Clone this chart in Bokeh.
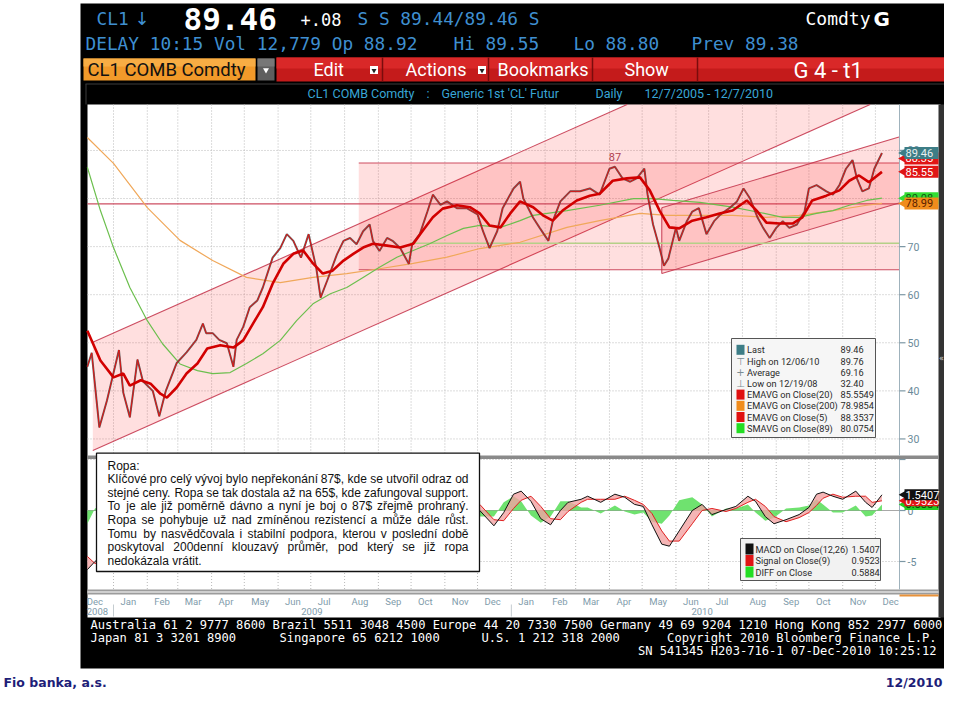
import unicodedata
import numpy as np
import pandas as pd
from bokeh.plotting import figure
from bokeh.models import Range1d
from bokeh.core.properties import value
from bokeh.embed import file_html
from bokeh.resources import INLINE

# ======================= DATA =======================
price_dates = ["2008-12-08","2008-12-12","2008-12-19","2008-12-26","2009-01-06","2009-01-10","2009-01-16","2009-01-23","2009-01-28","2009-02-06",
               "2009-02-12","2009-02-18","2009-02-28","2009-03-09","2009-03-18","2009-03-24","2009-03-27","2009-04-02","2009-04-08","2009-04-15",
               "2009-04-21","2009-04-24","2009-04-30","2009-05-06","2009-05-13","2009-05-18","2009-05-27","2009-06-03","2009-06-09","2009-06-15",
               "2009-06-22","2009-06-29","2009-07-06","2009-07-10","2009-07-16","2009-07-25","2009-07-31","2009-08-06","2009-08-12","2009-08-18",
               "2009-08-24","2009-08-27","2009-09-02","2009-09-09","2009-09-14","2009-09-21","2009-09-29","2009-10-02","2009-10-09","2009-10-16",
               "2009-10-21","2009-10-28","2009-11-03","2009-11-12","2009-11-21","2009-12-01","2009-12-06","2009-12-12","2009-12-19","2009-12-24",
               "2010-01-03","2010-01-09","2010-01-12","2010-01-21","2010-01-27","2010-02-04","2010-02-08","2010-02-15","2010-02-24","2010-03-05",
               "2010-03-14","2010-03-23","2010-04-01","2010-04-06","2010-04-13","2010-04-20","2010-04-26","2010-05-03","2010-05-06","2010-05-11",
               "2010-05-17","2010-05-21","2010-05-25","2010-06-01","2010-06-04","2010-06-11","2010-06-16","2010-06-22","2010-06-29","2010-07-06",
               "2010-07-12","2010-07-20","2010-07-27","2010-08-02","2010-08-08","2010-08-15","2010-08-20","2010-08-26","2010-09-01","2010-09-07",
               "2010-09-13","2010-09-20","2010-09-27","2010-10-01","2010-10-08","2010-10-17","2010-10-23","2010-10-29","2010-11-04","2010-11-10",
               "2010-11-14","2010-11-19","2010-11-25","2010-11-30","2010-12-07"]
price_close = [45.0,47.9,32.4,38.0,48.5,39.6,34.5,46.5,42.0,40.0,
               34.7,40.0,45.8,48.0,50.6,54.0,52.0,52.0,50.6,49.9,
               45.0,50.6,53.3,57.4,58.8,61.5,67.7,69.7,72.6,71.2,
               67.7,72.6,65.6,59.4,62.9,68.4,71.2,71.8,70.5,73.2,
               74.6,71.2,69.1,71.8,71.2,69.7,66.4,70.5,72.6,77.3,
               80.8,78.7,79.4,78.0,78.0,76.7,73.2,69.7,73.2,78.0,
               82.1,83.5,80.0,76.0,73.9,71.2,75.3,79.4,81.5,81.5,
               82.1,80.8,86.2,86.6,84.2,83.5,84.2,86.2,80.8,74.6,
               69.7,66.0,67.5,73.9,71.2,75.3,77.3,78.0,72.6,75.3,
               76.7,78.0,79.4,82.1,80.0,76.0,73.9,71.8,73.9,75.3,
               73.9,74.6,77.3,82.1,82.8,81.5,80.8,82.8,86.2,88.0,
               84.2,81.5,82.1,86.2,89.46]

ema20_dates = ["2008-12-08","2008-12-20","2009-01-01","2009-01-10","2009-01-16","2009-01-26","2009-02-04","2009-02-13","2009-02-19","2009-02-28",
               "2009-03-09","2009-03-19","2009-03-28","2009-04-09","2009-04-21","2009-04-30","2009-05-09","2009-05-18","2009-05-27","2009-06-06",
               "2009-06-15","2009-06-24","2009-07-03","2009-07-12","2009-07-21","2009-07-31","2009-08-09","2009-08-18","2009-08-27","2009-09-09",
               "2009-09-21","2009-10-03","2009-10-12","2009-10-21","2009-10-30","2009-11-12","2009-11-24","2009-12-03","2009-12-12","2009-12-22",
               "2009-12-31","2010-01-09","2010-01-21","2010-01-30","2010-02-08","2010-02-17","2010-03-02","2010-03-14","2010-03-23","2010-04-04",
               "2010-04-17","2010-04-29","2010-05-08","2010-05-17","2010-05-26","2010-06-04","2010-06-16","2010-06-29","2010-07-11","2010-07-23",
               "2010-08-05","2010-08-14","2010-08-23","2010-09-04","2010-09-16","2010-09-25","2010-10-04","2010-10-17","2010-10-29","2010-11-07",
               "2010-11-16","2010-11-25","2010-12-07"]
ema20_vals = [52.5,46.3,42.8,43.6,41.1,42.2,41.5,39.4,38.6,40.7,
              43.6,45.7,48.8,49.5,49.0,50.5,54.0,57.4,62.3,66.5,
              68.5,69.2,66.5,64.4,65.0,67.1,68.5,69.8,70.6,70.2,
              69.8,70.6,73.4,76.1,77.9,78.6,78.2,76.9,74.4,74.0,
              76.9,79.4,78.2,76.5,75.4,77.5,79.6,80.6,81.0,83.7,
              84.2,84.4,81.7,77.5,74.0,73.8,75.4,76.1,76.9,77.5,
              79.6,77.5,75.0,74.8,74.8,76.1,79.6,80.6,81.7,83.7,
              84.8,83.4,85.55]

ema200_dates = ["2008-12-08","2009-01-01","2009-02-01","2009-03-03","2009-04-02","2009-05-03","2009-06-03","2009-07-03","2009-08-03","2009-09-02",
                "2009-10-03","2009-11-03","2009-12-03","2010-01-09","2010-02-21","2010-03-23","2010-04-29","2010-05-24","2010-06-23","2010-07-23",
                "2010-08-23","2010-09-22","2010-10-23","2010-11-23","2010-12-07"]
ema200_vals = [92.7,87.3,78.1,71.3,67.1,63.6,62.5,63.6,64.4,65.4,
               66.5,67.8,69.6,70.9,74.0,75.4,76.9,76.5,76.5,76.5,
               76.1,76.5,77.5,78.6,78.99]

sma89_dates = ["2008-12-08","2008-12-20","2009-01-01","2009-01-16","2009-02-01","2009-02-15","2009-03-03","2009-03-19","2009-04-02","2009-04-18",
               "2009-05-03","2009-05-18","2009-06-03","2009-06-18","2009-07-03","2009-07-19","2009-08-03","2009-08-18","2009-09-02","2009-09-18",
               "2009-10-03","2009-10-18","2009-11-03","2009-11-18","2009-12-03","2009-12-22","2010-01-09","2010-01-21","2010-02-21","2010-03-23",
               "2010-04-23","2010-05-11","2010-05-29","2010-06-23","2010-07-23","2010-08-17","2010-09-07","2010-09-22","2010-10-08","2010-10-23",
               "2010-11-07","2010-11-23","2010-12-07"]
sma89_vals = [86.5,77.5,69.8,61.5,54.6,49.8,45.6,44.2,43.6,43.8,
              45.7,47.7,50.5,54.6,58.1,60.2,61.5,63.6,65.7,67.8,
              69.2,70.6,72.3,73.8,74.4,74.0,75.4,76.5,77.5,78.6,
              80.0,80.0,79.6,79.2,78.2,77.1,76.1,76.1,76.9,77.5,
              78.6,79.6,80.08]

macd_dates = ["2008-12-08","2008-12-15","2008-12-24","2009-01-01","2009-01-12","2009-01-26","2009-02-08","2009-02-17","2009-03-03","2009-03-17",
              "2009-03-31","2009-04-13","2009-04-27","2009-05-11","2009-05-25","2009-06-07","2009-06-21","2009-07-05","2009-07-14","2009-07-28",
              "2009-08-11","2009-08-24","2009-09-07","2009-09-21","2009-09-30","2009-10-14","2009-10-28","2009-11-10","2009-11-24","2009-12-03",
              "2009-12-16","2009-12-25","2010-01-03","2010-01-10","2010-01-19","2010-01-28","2010-02-06","2010-02-15","2010-02-22","2010-03-06",
              "2010-03-12","2010-03-24","2010-04-06","2010-04-15","2010-04-24","2010-05-02","2010-05-10","2010-05-19","2010-05-26","2010-06-04",
              "2010-06-16","2010-06-25","2010-07-04","2010-07-17","2010-07-26","2010-08-06","2010-08-13","2010-08-22","2010-08-30","2010-09-10",
              "2010-09-22","2010-10-01","2010-10-08","2010-10-14","2010-10-23","2010-11-01","2010-11-13","2010-11-22","2010-11-28","2010-12-07"]
macd_vals = [-5.8,-5.0,-4.2,-3.0,-2.0,-1.6,-1.9,-2.2,-1.0,0.5,
             1.5,1.2,0.8,1.8,3.0,3.8,3.2,1.0,-0.8,0.3,
             1.5,1.6,0.5,-0.2,-0.4,1.2,2.4,1.8,0.8,0.0,
             -1.5,-0.2,1.6,1.9,0.9,-0.8,-1.4,0.0,0.8,1.1,
             1.4,0.8,1.6,1.3,0.6,0.4,-1.4,-3.3,-3.5,-2.0,
             0.0,0.6,-0.4,0.1,0.4,1.4,0.9,-0.6,-1.3,-0.9,
             -0.4,0.3,1.6,1.8,1.4,1.1,1.9,0.8,0.3,1.54]
signal_vals = [-4.5,-5.2,-4.8,-4.0,-2.8,-2.0,-1.8,-2.0,-1.8,-0.5,
               0.6,1.3,1.0,1.2,2.2,3.2,3.5,2.4,0.8,-0.2,
               0.8,1.4,1.2,0.4,-0.1,0.4,1.6,2.0,1.4,0.6,
               -0.9,-1.0,0.2,1.0,1.4,0.4,-0.8,-0.9,-0.1,0.8,
               1.1,1.1,1.1,1.4,1.0,0.6,-0.3,-2.0,-3.0,-3.0,
               -1.3,0.0,0.2,-0.1,0.2,0.8,1.1,0.4,-0.6,-1.1,
               -0.7,-0.2,0.5,1.2,1.6,1.3,1.4,1.4,0.8,0.95]

# drawn analysis objects (price levels / channels)
level_87 = 87.4
support_65 = 65.2
level_79 = 78.9
level_71 = 70.7
level_71_start = "2009-09-30"
range_box_start = "2009-08-14"
peak_87_date = "2010-04-06"
big_channel_anchor = "2008-12-13"
big_channel_lower = 27.6
big_channel_upper = 50.1
big_channel_slope = 0.1009          # USD per day
small_channel_anchor = "2010-05-19"
small_channel_lower = 64.4
small_channel_upper = 78.1
small_channel_slope = 0.0675        # USD per day

# axes
price_ticks = [30, 40, 50, 60, 70, 80, 90]
macd_ticks = [-5, 0, 5]
macd_tick_labels = ["-5", "0", ""]
month_labels = ["Dec","Jan","Feb","Mar","Apr","May","Jun","Jul","Aug","Sep","Oct","Nov","Dec",
                "Jan","Feb","Mar","Apr","May","Jun","Jul","Aug","Sep","Oct","Nov","Dec"]
year_labels = ["2008", "2009", "2010"]
year_label_dates = ["2008-12-01", "2009-07-02", "2010-06-25"]

# value tags on the right axis (drawn bottom-most first)
price_tag_vals = [88.35, 89.46, 85.55, 80.08, 78.99]
price_tag_text = ["88.35", "89.46", "85.55", "80.08", "78.99"]
price_tag_bg = ["#e01515", "#3d7d86", "#e01515", "#33dd33", "#f08c1c"]
price_tag_fg = ["#ffffff", "#e8f0f0", "#ffffff", "#115511", "#5a2000"]
macd_tag_vals = [0.5884, 0.9523, 1.5407]
macd_tag_text = ["0.5884", "0.9523", "1.5407"]
macd_tag_bg = ["#22cc22", "#e01515", "#111111"]
macd_tag_fg = ["#0a3a0a", "#ffffff", "#ffffff"]

# legends
legend_labels = ["Last", "High on 12/06/10", "Average", "Low on 12/19/08", "EMAVG on Close(20)",
                 "EMAVG on Close(200)", "EMAVG on Close(5)", "SMAVG on Close(89)"]
legend_values = ["89.46", "89.76", "69.16", "32.40", "85.5549", "78.9854", "88.3537", "80.0754"]
legend_icons = ["sq", "T", "+", "L", "sq", "sq", "sq", "sq"]
legend_colors = ["#3d7d86", "#7a8c94", "#7a8c94", "#7a8c94", "#e01010", "#f08c1c", "#e01010", "#22dd22"]
macd_legend_labels = ["MACD on Close(12,26)", "Signal on Close(9)", "DIFF on Close"]
macd_legend_values = ["1.5407", "0.9523", "0.5884"]
macd_legend_colors = ["#111111", "#e01515", "#22dd22"]

note_lines = ["Ropa:",
              "Klíčové pro celý vývoj bylo nepřekonání 87$, kde se utvořil odraz od",
              "stejné ceny. Ropa se tak dostala až na 65$, kde zafungoval support.",
              "To je ale již poměrně dávno a nyní je boj o 87$ zřejmě prohraný.",
              "Ropa se pohybuje už nad zmíněnou rezistencí a může dále růst.",
              "Tomu by nasvědčovala i stabilní podpora, kterou v poslední době",
              "poskytoval 200denní klouzavý průměr, pod který se již ropa",
              "nedokázala vrátit."]

# ======================= LAYOUT / SCALES =======================
FIG_W, FIG_H = 944, 690
ORIGIN = pd.Timestamp("2009-01-01")
X_ORIGIN_PX, PX_PER_DAY = 113.0, 1.09
PRICE_60_PX, PX_PER_USD = 294.2, 4.808
MACD_0_PX, PX_PER_MACD = 510.0, 10.2
PANE_L, PANE_R = 87.0, 898.5
PRICE_TOP, PRICE_BOT = 104.0, 455.0
MACD_TOP, MACD_BOT = 458.5, 589.0

def days(d):
    r = (pd.to_datetime(d) - ORIGIN) / pd.Timedelta(days=1)
    if isinstance(d, str):
        return float(r)
    return np.asarray(r, dtype=float).tolist()

def px_to_day(px):
    return (px - X_ORIGIN_PX) / PX_PER_DAY

def py_to_price(py):
    return 60 + (PRICE_60_PX - py) / PX_PER_USD

def py_to_macd(py):
    return (MACD_0_PX - py) / PX_PER_MACD

p = figure(width=FIG_W, height=FIG_H, x_range=Range1d(0, FIG_W), y_range=Range1d(FIG_H, 0),
           x_axis_type=None, y_axis_type=None, output_backend="svg",
           toolbar_location=None, min_border=0, outline_line_color=None)
p.background_fill_color = "white"
p.border_fill_color = "white"
p.extra_x_ranges = {"t": Range1d(px_to_day(0), px_to_day(FIG_W))}
p.extra_y_ranges = {"price": Range1d(py_to_price(FIG_H), py_to_price(0)),
                    "macd": Range1d(py_to_macd(FIG_H), py_to_macd(0))}

MONO = "DejaVu Sans Mono"
BLUE = "#3f8fd0"

def box(l, r, t, b, color, line=None, lw=1.0, alpha=1.0):
    p.quad(left=[l], right=[r], top=[t], bottom=[b], fill_color=color, fill_alpha=alpha,
           line_color=line, line_width=lw)

def txt(x, y, s, size, color, font="Roboto", align="left", baseline="middle", style="normal"):
    p.text(x=[x], y=[y], text=[s], text_font=value(font), text_font_size=value(f"{size}px"),
           text_color=color, text_align=align, text_baseline=baseline, text_font_style=style)

# ---------- Bloomberg frame & header ----------
box(80, FIG_W, 3, 668, "black")
txt(96, 18, "CL1", 17.8, BLUE, MONO)
txt(134, 18, "↓", 18, BLUE, "DejaVu Sans")
txt(183, 18, "89.46", 31, "white", MONO, style="bold")
txt(300, 19, "+.08", 17, "white", MONO)
txt(357, 18, "S S 89.44/89.46 S", 17.8, BLUE, MONO)
txt(805, 18, "Comdty", 18, "white", MONO)
txt(873, 18, "G", 20, "white", "DejaVu Sans", style="bold")

txt(85, 43, "DELAY 10:15 Vol 12,779 Op 88.92", 17.8, BLUE, MONO)
txt(453, 43, "Hi 89.55", 17.8, BLUE, MONO)
txt(573, 43, "Lo 88.80", 17.8, BLUE, MONO)
txt(691, 43, "Prev 89.38", 17.8, BLUE, MONO)

# menu bar
box(83, 255, 58, 80, "#f29a2a")
box(83, 255, 58, 66, "#f8ad44")
txt(87, 69.5, "CL1 COMB Comdty", 18.5, "#111111")
box(257, 274, 58, 80, "#5e5e5e")
box(257, 274, 58, 66, "#777777")
p.scatter(x=[265.5], y=[69.5], marker="triangle", size=6, angle=np.pi, fill_color="white", line_color=None)
box(276, FIG_W, 57, 81, "#c41b1b")
box(276, FIG_W, 57, 68, "#d92828")
p.segment(x0=[382, 488, 592, 697], x1=[382, 488, 592, 697], y0=[57]*4, y1=[81]*4,
          line_color="#7a0c0c", line_width=1.5)
txt(313, 69, "Edit", 18, "white")
txt(405, 69, "Actions", 18, "white")
txt(497, 69, "Bookmarks", 18, "white")
txt(624, 69, "Show", 18, "white")
txt(793, 70, "G 4 - t1", 22, "white")
for bx in (369.5, 477.5):
    box(bx, bx + 8, 65.5, 73.5, "white")
    p.scatter(x=[bx + 4], y=[70], marker="triangle", size=5, angle=np.pi, fill_color="#222222", line_color=None)

# subtitle row
p.segment(x0=[85], x1=[FIG_W], y0=[83.5], y1=[83.5], line_color="#3c3c3c", line_width=1)
p.segment(x0=[85.5], x1=[85.5], y0=[83.5], y1=[104], line_color="#3c3c3c", line_width=1)
SUB = "#38a6d6"
txt(307, 93, "CL1 COMB Comdty", 12.5, SUB)
txt(426, 93, ":", 12.5, SUB)
txt(441, 93, "Generic 1st 'CL' Futur", 12.5, SUB)
txt(595, 93, "Daily", 12.5, SUB)
txt(644, 93, "12/7/2005 - 12/7/2010", 12.5, SUB)

# chart area and right scroll bar
box(87, 940, 104, 617, "white")
box(938, FIG_W, 104, 617, "#333333")
txt(941, 358, "«", 8, "#d8d8d8", "DejaVu Sans", align="center")

# ---------- grids ----------
month_starts = pd.date_range("2008-12-01", "2010-12-01", freq="MS")
md = [d for d in days([str(m.date()) for m in month_starts]) if d >= px_to_day(PANE_L)]
GRID = dict(line_color="#b9b9b9", line_dash="1 2", line_width=1)
p.segment(x0=md, x1=md, y0=[PRICE_TOP] * len(md), y1=[PRICE_BOT] * len(md), x_range_name="t", **GRID)
p.segment(x0=md, x1=md, y0=[MACD_TOP] * len(md), y1=[MACD_BOT] * len(md), x_range_name="t", **GRID)
p.segment(x0=[PANE_L] * len(price_ticks), x1=[PANE_R] * len(price_ticks), y0=price_ticks, y1=price_ticks,
          y_range_name="price", **GRID)
p.segment(x0=[PANE_L, PANE_L], x1=[PANE_R, PANE_R], y0=[-5, 5], y1=[-5, 5], y_range_name="macd", **GRID)
p.segment(x0=[PANE_L], x1=[PANE_R], y0=[0], y1=[0], y_range_name="macd", line_color="#a8a8a8", line_width=1)

# ---------- price pane drawings ----------
PR = dict(x_range_name="t", y_range_name="price")
top_price = py_to_price(PRICE_TOP)
d_right = px_to_day(PANE_R)
d_left = px_to_day(PANE_L)
CH_FILL = dict(fill_color="#ff1a1a", fill_alpha=0.14, line_color=None)
CH_LINE = dict(line_color="#c63a50", line_width=1.1, line_alpha=0.9)

# big rising channel
d0 = days(big_channel_anchor)
d_up_end = d0 + (top_price - big_channel_upper) / big_channel_slope
d_lo_end = d0 + (top_price - big_channel_lower) / big_channel_slope
p.patch(x=[d0, d0, d_up_end, d_lo_end], y=[big_channel_lower, big_channel_upper, top_price, top_price], **PR, **CH_FILL)
p.line(x=[d0, d_up_end], y=[big_channel_upper, top_price], **PR, **CH_LINE)
p.line(x=[d0, d_lo_end], y=[big_channel_lower, top_price], **PR, **CH_LINE)

# range 65 - 87
db = days(range_box_start)
p.quad(left=[db], right=[d_right], bottom=[support_65], top=[level_87], **PR, **CH_FILL)
p.line(x=[db, d_right], y=[level_87, level_87], **PR, **CH_LINE)
p.line(x=[db, d_right], y=[support_65, support_65], **PR, **CH_LINE)
p.line(x=[d_left, d_right], y=[level_79, level_79], **PR, **CH_LINE)

# small rising channel
s0 = days(small_channel_anchor)
rise = small_channel_slope * (d_right - s0)
p.patch(x=[s0, s0, d_right, d_right],
        y=[small_channel_lower, small_channel_upper, small_channel_upper + rise, small_channel_lower + rise], **PR, **CH_FILL)
p.line(x=[s0, d_right], y=[small_channel_upper, small_channel_upper + rise], **PR, **CH_LINE)
p.line(x=[s0, d_right], y=[small_channel_lower, small_channel_lower + rise], **PR, **CH_LINE)
p.line(x=[s0, s0], y=[small_channel_lower, small_channel_upper], **PR, **CH_LINE)

p.line(x=[days(level_71_start), d_right], y=[level_71, level_71], line_color="#b4d088", line_width=1.6, **PR)
p.text(x=[days(peak_87_date)], y=[level_87], text=["87"], text_font=value("Roboto"), text_font_size=value("11px"),
       text_color="#b04050", text_align="center", text_baseline="bottom", y_offset=-2, **PR)

# moving averages and price
p.line(x=days(ema200_dates), y=ema200_vals, line_color="#f0a85a", line_width=1.2, **PR)
p.line(x=days(sma89_dates), y=sma89_vals, line_color="#6cbf4e", line_width=1.2, **PR)
px_days = days(price_dates)
p.line(x=px_days, y=price_close, line_color="#4a4a4a", line_width=2.0, line_alpha=0.85, **PR)
p.line(x=px_days, y=price_close, line_color="#e31212", line_width=1.0, **PR)
p.line(x=days(ema20_dates), y=ema20_vals, line_color="#d20000", line_width=2.6, **PR)

# ---------- MACD pane ----------
MC = dict(x_range_name="t", y_range_name="macd")
m_days = days(macd_dates)
diff_vals = [m - s for m, s in zip(macd_vals, signal_vals)]
p.varea(x=m_days, y1=[0] * len(m_days), y2=diff_vals, fill_color="#3fd83f", fill_alpha=0.75, **MC)
p.varea(x=m_days, y1=macd_vals, y2=signal_vals, fill_color="#f2a2a2", fill_alpha=0.8, **MC)
p.line(x=m_days, y=signal_vals, line_color="#e02020", line_width=1.0, **MC)
p.line(x=m_days, y=macd_vals, line_color="#111111", line_width=1.0, **MC)

# pane separators
box(87, 938, PRICE_BOT, MACD_TOP, "#8a8a8a")
box(87, 938, MACD_BOT, 594, "#9c9c9c")
box(87, 938, 590.5, 592.5, "#cfcfcf")
box(899, 938, 594, 596, "#e8923a")

# ---------- right axes ----------
AX = "#9fb2bc"
p.segment(x0=[899, 899], x1=[899, 899], y0=[PRICE_TOP, MACD_TOP], y1=[PRICE_BOT, MACD_BOT], line_color=AX, line_width=1)
p.segment(x0=[899] * len(price_ticks), x1=[905] * len(price_ticks), y0=price_ticks, y1=price_ticks,
          y_range_name="price", line_color="#7d98a5", line_width=1.2)
p.text(x=[907] * len(price_ticks), y=price_ticks, text=[str(t) for t in price_ticks], y_range_name="price",
       text_font=value("Roboto"), text_font_size=value("10.5px"), text_color="#6a8a99", text_baseline="middle")
p.segment(x0=[899] * len(macd_ticks), x1=[905] * len(macd_ticks), y0=macd_ticks, y1=macd_ticks,
          y_range_name="macd", line_color="#7d98a5", line_width=1.2)
p.text(x=[907] * len(macd_ticks), y=macd_ticks, text=macd_tick_labels, y_range_name="macd",
       text_font=value("Roboto"), text_font_size=value("10.5px"), text_color="#6a8a99", text_baseline="middle")

def tags(vals, labels, bgs, fgs, rng, h):
    for v, s, bg, fg in zip(vals, labels, bgs, fgs):
        p.rect(x=[921], y=[v], width=[34], height=[h], height_units="screen", y_range_name=rng,
               fill_color=bg, line_color=None)
        p.scatter(x=[904], y=[v], marker="triangle", size=h - 1, angle=np.pi / 2, y_range_name=rng,
                  fill_color=bg, line_color=None)
        p.text(x=[905], y=[v], text=[s], y_range_name=rng, text_font=value("Roboto"),
               text_font_size=value("11px"), text_color=fg, text_baseline="middle")

tags(price_tag_vals, price_tag_text, price_tag_bg, price_tag_fg, "price", 12)
tags(macd_tag_vals, macd_tag_text, macd_tag_bg, macd_tag_fg, "macd", 11)

# ---------- x axis ----------
label_days = days([str(m.date()) for m in month_starts])
p.text(x=label_days, y=[601] * len(label_days), text=month_labels, x_range_name="t", x_offset=7,
       text_font=value("Roboto"), text_font_size=value("9.5px"), text_color="#7f9cab", text_baseline="middle")
p.text(x=days(year_label_dates), y=[611] * 3, text=year_labels, x_range_name="t", x_offset=[7, 0, 0],
       text_align=["left", "center", "center"],
       text_font=value("Roboto"), text_font_size=value("9.5px"), text_color="#7f9cab", text_baseline="middle")
yb = days(["2009-01-01", "2010-01-01"])
p.segment(x0=yb, x1=yb, y0=[604, 604], y1=[616, 616], x_range_name="t", line_color="#c4ccd0", line_width=1)

# ---------- legends ----------
LG_FS = 9.2
box(731, 875, 338, 437, "#f6f6f6", line="#555555", lw=1)
for i, (lab, val, ic, col) in enumerate(zip(legend_labels, legend_values, legend_icons, legend_colors)):
    y = 349.3 + i * 11.2
    if ic == "sq":
        box(736, 744, y - 5, y + 5, col)
    else:
        glyph = {"T": "⊤", "+": "+", "L": "⊥"}[ic]
        txt(740, y, glyph, 10, col, "DejaVu Sans", align="center")
    txt(746.5, y, lab, LG_FS, "#2a2a2a")
    txt(840, y, val, LG_FS, "#2a2a2a")

box(740, 880, 538, 580, "#f2f2f2", line="#555555", lw=1)
for i, (lab, val, col) in enumerate(zip(macd_legend_labels, macd_legend_values, macd_legend_colors)):
    y = 548.5 + i * 11.5
    box(745, 753, y - 5.5, y + 5.5, col)
    txt(755, y, lab, LG_FS, "#2a2a2a")
    txt(851, y, val, LG_FS, "#2a2a2a")

# ---------- comment box ----------
AW = {' ': 278, '$': 556, '(': 333, ')': 333, ',': 278, '-': 333, '.': 278, ':': 278, '/': 278,
      'a': 556, 'b': 556, 'c': 500, 'd': 556, 'e': 556, 'f': 278, 'g': 556, 'h': 556, 'i': 222, 'j': 222,
      'k': 500, 'l': 222, 'm': 833, 'n': 556, 'o': 556, 'p': 556, 'q': 556, 'r': 333, 's': 500, 't': 278,
      'u': 556, 'v': 500, 'w': 722, 'x': 500, 'y': 500, 'z': 500,
      'K': 667, 'R': 722, 'T': 611, 'P': 667}

def tw(s, size):
    w = 0
    for ch in s:
        base = unicodedata.normalize("NFD", ch)[0]
        w += AW.get(base, 556 if base.isdigit() else (667 if base.isupper() else 556))
    return w * size / 1000.0

box(96, 479, 452.7, 571, "white", line="#111111", lw=1.3)
NOTE_X, NOTE_W, NOTE_FS = 107, 361, 12
for i, line in enumerate(note_lines):
    y = 465 + i * 13.6
    if i == 0 or i == len(note_lines) - 1:
        txt(NOTE_X, y, line, NOTE_FS, "#111111", "Liberation Sans")
        continue
    words = line.split(" ")
    widths = [tw(w, NOTE_FS) for w in words]
    gap = max((NOTE_W - sum(widths)) / (len(words) - 1), 2.0)
    xs, x = [], NOTE_X
    for w in widths:
        xs.append(x)
        x += w + gap
    p.text(x=xs, y=[y] * len(words), text=words, text_font=value("Liberation Sans"),
           text_font_size=value(f"{NOTE_FS}px"), text_color="#111111", text_baseline="middle")

# ---------- Bloomberg footer ----------
FT = 12.1
txt(90, 624, "Australia 61 2 9777 8600 Brazil 5511 3048 4500 Europe 44 20 7330 7500 Germany 49 69 9204 1210 Hong Kong 852 2977 6000", FT, "white", MONO)
txt(90, 637, "Japan 81 3 3201 8900", FT, "white", MONO)
txt(279, 637, "Singapore 65 6212 1000", FT, "white", MONO)
txt(481, 637, "U.S. 1 212 318 2000", FT, "white", MONO)
txt(936, 637, "Copyright 2010 Bloomberg Finance L.P.", FT, "white", MONO, align="right")
txt(936, 650, "SN 541345 H203-716-1 07-Dec-2010 10:25:12", FT, "white", MONO, align="right")

# ---------- slide footer ----------
txt(3, 682, "Fio banka, a.s.", 12.5, "#1e1e78", "DejaVu Sans", style="bold")
txt(942, 682, "12/2010", 12.5, "#1e1e78", "DejaVu Sans", align="right", style="bold")

open("out.html", "w").write(file_html(p, INLINE))
